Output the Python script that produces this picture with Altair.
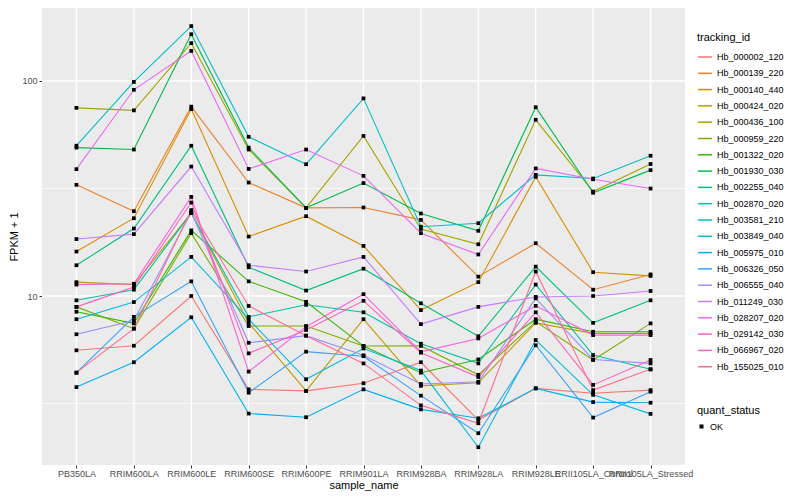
import altair as alt
import pandas as pd

samples = ["PB350LA", "RRIM600LA", "RRIM600LE", "RRIM600SE", "RRIM600PE",
           "RRIM901LA", "RRIM928BA", "RRIM928LA", "RRIM928LE",
           "RRII105LA_Control", "RRII105LA_Stressed"]

tracking_ids = ["Hb_000002_120", "Hb_000139_220", "Hb_000140_440", "Hb_000424_020",
                "Hb_000436_100", "Hb_000959_220", "Hb_001322_020", "Hb_001930_030",
                "Hb_002255_040", "Hb_002870_020", "Hb_003581_210", "Hb_003849_040",
                "Hb_005975_010", "Hb_006326_050", "Hb_006555_040", "Hb_011249_030",
                "Hb_028207_020", "Hb_029142_030", "Hb_066967_020", "Hb_155025_010"]

palette = ["#F8766D", "#EA8331", "#D89000", "#C09B00", "#A3A500", "#7CAE00",
           "#39B600", "#00BB4E", "#00BF7D", "#00C1A3", "#00BFC4", "#00BAE0",
           "#00B0F6", "#35A2FF", "#9590FF", "#C77CFF", "#E76BF3", "#FA62DB",
           "#FF62BC", "#FF6C91"]

# FPKM + 1 per sample (same order as samples)
hb_000002_120 = [5.59, 5.87, 10.0, 3.68, 3.62, 3.93, 4.92, 2.65, 3.72, 3.53, 3.65]
hb_000139_220 = [32.9, 24.8, 76, 33.7, 25.7, 25.8, 22.6, 12.3, 17.6, 10.7, 12.6]
hb_000140_440 = [16.1, 23.0, 74, 18.9, 23.5, 17.1, 8.6, 11.6, 35.8, 12.9, 12.4]
hb_000424_020 = [11.6, 11.3, 24.3, 7.5, 3.62, 7.8, 3.82, 3.95, 7.5, 6.7, 6.7]
hb_000436_100 = [75, 73, 150, 48, 25.7, 55.5, 20.5, 17.4, 66, 30.6, 41.1]
hb_000959_220 = [8.9, 7.05, 19.6, 7.25, 7.25, 5.85, 5.86, 4.3, 7.6, 5.04, 7.46]
hb_001322_020 = [8.45, 7.46, 20.2, 11.7, 9.4, 5.85, 4.4, 5.07, 7.8, 6.82, 6.82]
hb_001930_030 = [49, 48, 165, 49, 25.7, 33.5, 24.2, 20.1, 75.5, 30.2, 38.5]
hb_002255_040 = [13.9, 20.6, 50, 13.6, 10.6, 13.4, 9.25, 6.5, 13.7, 7.5, 9.55]
hb_002870_020 = [9.55, 10.7, 24.3, 8.0, 9.1, 8.4, 6.0, 4.86, 11.3, 5.31, 4.56]
hb_003581_210 = [50, 99, 180, 55, 41, 83, 21.0, 21.8, 36.6, 35.2, 44.9]
hb_003849_040 = [7.8, 9.37, 15.2, 7.8, 4.1, 5.7, 4.5, 1.98, 6.24, 3.47, 2.83]
hb_005975_010 = [3.77, 4.92, 7.96, 2.84, 2.73, 3.68, 2.97, 2.7, 3.72, 3.21, 3.19]
hb_006326_050 = [4.4, 8.0, 11.7, 3.55, 5.51, 5.25, 3.44, 2.3, 5.9, 2.72, 3.59]
hb_006555_040 = [6.64, 7.7, 24.5, 6.06, 6.54, 5.3, 3.9, 3.99, 9.75, 5.07, 4.86]
hb_011249_030 = [18.4, 19.4, 40, 13.9, 13.0, 15.2, 7.4, 8.9, 9.9, 10.0, 10.55]
hb_028207_020 = [38.9, 91, 138, 39, 48, 36.2, 19.6, 15.6, 39.2, 34.9, 31.6]
hb_029142_030 = [11.3, 11.4, 28.9, 4.45, 7.2, 10.2, 5.5, 6.35, 9.0, 6.58, 6.58]
hb_066967_020 = [8.9, 11.0, 27.2, 5.41, 6.95, 9.5, 5.45, 4.2, 8.4, 3.86, 5.04]
hb_155025_010 = [4.4, 7.05, 25.1, 8.99, 6.54, 4.86, 3.1, 2.56, 13.0, 3.65, 4.56]

series = [hb_000002_120, hb_000139_220, hb_000140_440, hb_000424_020, hb_000436_100,
          hb_000959_220, hb_001322_020, hb_001930_030, hb_002255_040, hb_002870_020,
          hb_003581_210, hb_003849_040, hb_005975_010, hb_006326_050, hb_006555_040,
          hb_011249_030, hb_028207_020, hb_029142_030, hb_066967_020, hb_155025_010]

major_breaks = [10, 100]
minor_breaks = [3.1623, 31.623]

W, H = 643, 457

rows = []
for tid, vals in zip(tracking_ids, series):
    for s, v in zip(samples, vals):
        rows.append({"tracking_id": tid, "sample_name": s, "FPKM + 1": v,
                     "quant_status": "OK"})
df = pd.DataFrame(rows)
minor_df = pd.DataFrame({"FPKM + 1": minor_breaks})
major_df = pd.DataFrame({"FPKM + 1": major_breaks})
xgrid_df = pd.DataFrame({"sample_name": samples})
bg_df = pd.DataFrame({"panel": [1]})

FONT = "Liberation Sans"

x_scale = alt.Scale(type="point", padding=0.6, domain=samples)
x_axis = alt.Axis(title="sample_name", labelAngle=0, labelOverlap=False,
                  labelBound=False, labelLimit=0, labelAlign="center",
                  labelFontSize=9, labelColor="#4D4D4D", labelPadding=1,
                  tickColor="#333333", tickSize=3, domain=False, grid=False,
                  titleFontSize=11, titleFontWeight="normal",
                  titleColor="#000000", titlePadding=1)
y_scale = alt.Scale(type="log", domain=[1.637, 218.5], nice=False, zero=False)
y_axis = alt.Axis(title="FPKM + 1", values=major_breaks, format="d",
                  labelFontSize=9, labelColor="#4D4D4D", labelPadding=2,
                  tickColor="#333333", tickSize=3, domain=False, grid=False,
                  titleFontSize=11, titleFontWeight="normal",
                  titleColor="#000000", titlePadding=2)

X = alt.X("sample_name:N", sort=samples, scale=x_scale, axis=x_axis)
Y = alt.Y("FPKM + 1:Q", scale=y_scale, axis=y_axis)

# grey panel background
bg = alt.Chart(bg_df).mark_rect(color="#EBEBEB").encode(
    x=alt.value(0), x2=alt.value(W), y=alt.value(0), y2=alt.value(H)
)

minor = alt.Chart(minor_df).mark_rule(color="#FFFFFF", strokeWidth=0.7).encode(y=Y)
major = alt.Chart(major_df).mark_rule(color="#FFFFFF", strokeWidth=1.4).encode(y=Y)
xgrid = alt.Chart(xgrid_df).mark_rule(color="#FFFFFF", strokeWidth=1.4).encode(x=X)

lines = alt.Chart(df).mark_line(strokeWidth=1.1).encode(
    x=X,
    y=Y,
    color=alt.Color("tracking_id:N",
                    scale=alt.Scale(domain=tracking_ids, range=palette),
                    legend=alt.Legend(title="tracking_id", orient="none",
                                      legendX=655, legendY=24,
                                      symbolType="stroke", symbolSize=196,
                                      symbolStrokeWidth=1.5, rowPadding=3.3,
                                      labelFontSize=9, labelColor="#000000",
                                      titleFontSize=11, titleFontWeight="normal",
                                      titleColor="#000000", titlePadding=6)),
    detail="tracking_id:N",
)

points = alt.Chart(df).mark_point(filled=True, color="#000000", size=14,
                                  opacity=1).encode(
    x=X,
    y=Y,
    shape=alt.Shape("quant_status:N",
                    scale=alt.Scale(domain=["OK"], range=["square"]),
                    legend=alt.Legend(title="quant_status", orient="none",
                                      legendX=655, legendY=397,
                                      symbolSize=16, symbolFillColor="#000000",
                                      symbolStrokeColor="#000000",
                                      labelFontSize=9, labelColor="#000000",
                                      titleFontSize=11, titleFontWeight="normal",
                                      titleColor="#000000", titlePadding=6)),
)

chart = alt.layer(bg, minor, major, xgrid, lines, points).properties(
    width=W, height=H,
    autosize=alt.AutoSizeParams(type="none"),
    padding={"left": 34, "top": 0, "right": 107, "bottom": 27},
    background="#FFFFFF",
).configure_view(
    stroke=None
).configure_axis(
    labelFont=FONT, titleFont=FONT
).configure_legend(
    labelFont=FONT, titleFont=FONT
)

chart.save("out.html", embed_options={"renderer": "svg", "actions": False})
